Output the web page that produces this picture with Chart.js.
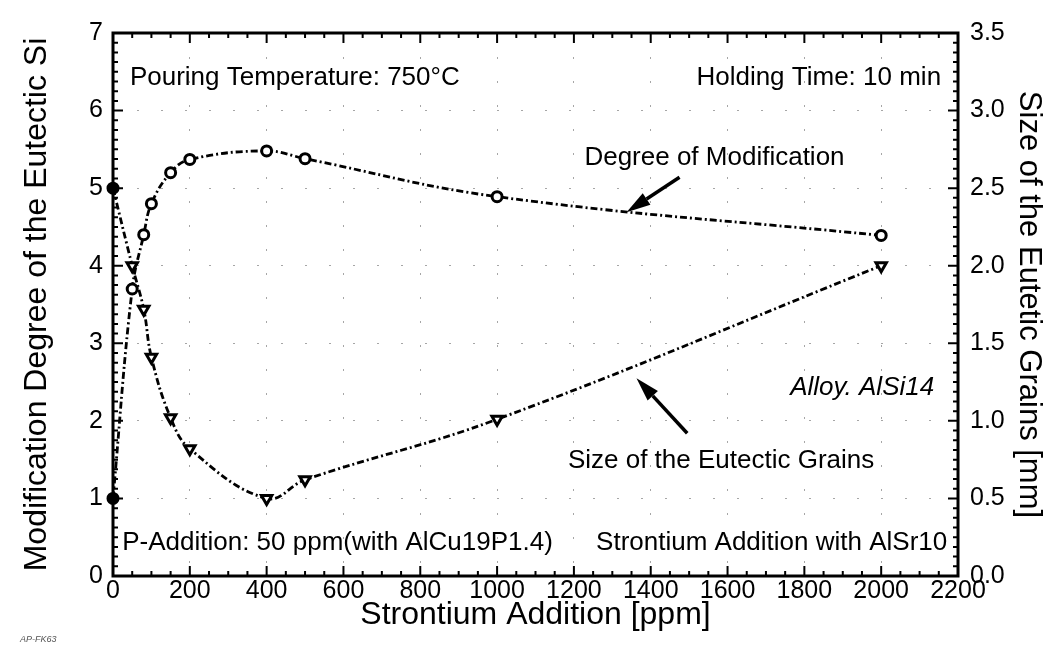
<!DOCTYPE html>
<html lang="en">
<head>
<meta charset="UTF-8">
<title>Strontium Addition</title>
<script src="https://cdn.jsdelivr.net/npm/chart.js"></script>
<style>
  html, body { margin: 0; padding: 0; background: #fff; }
</style>
</head>
<body>
<canvas id="myChart" width="1059" height="651"></canvas>
<script>
// Sr addition [ppm] for each measured sample
const srAddition = [0, 50, 80, 100, 150, 200, 400, 500, 1000, 2000];
// degree of modification of the eutectic Si (left axis)
const modDegree = [1.0, 3.7, 4.4, 4.8, 5.2, 5.37, 5.48, 5.38, 4.89, 4.39];
// size of the eutectic grains [mm] (right axis)
const grainSize = [2.5, 2.0, 1.72, 1.41, 1.02, 0.82, 0.5, 0.62, 1.01, 2.0];

// tick labels
const xTicks = [0, 200, 400, 600, 800, 1000, 1200, 1400, 1600, 1800, 2000, 2200];
const leftTicks = [0, 1, 2, 3, 4, 5, 6, 7];
const rightTicks = [0, 0.5, 1.0, 1.5, 2.0, 2.5, 3.0, 3.5];

const FONT = "'Liberation Sans', Arial, sans-serif";

// text notes and arrows placed in data units (x = ppm, y = left axis)
const notes = [
  { text: 'Pouring Temperature: 750°C', x: 44, y: 6.33, align: 'left' },
  { text: 'Holding Time: 10 min', x: 2156, y: 6.33, align: 'right' },
  { text: 'Degree of Modification', x: 1566, y: 5.30, align: 'center' },
  { text: 'Alloy. AlSi14', x: 2138, y: 2.33, align: 'right', italic: true },
  { text: 'Size of the Eutectic Grains', x: 1982, y: 1.39, align: 'right' },
  { text: 'P-Addition: 50 ppm(with AlCu19P1.4)', x: 24, y: 0.34, align: 'left' },
  { text: 'Strontium Addition with AlSr10', x: 2172, y: 0.34, align: 'right' }
];
const arrows = [
  { from: [1475, 5.14], to: [1337, 4.69] },
  { from: [1495, 1.84], to: [1363, 2.55] }
];

// frame, inward ticks, notes and arrows
const decorPlugin = {
  id: 'decor',
  afterDraw(chart) {
    const ctx = chart.ctx;
    const a = chart.chartArea;
    const sx = chart.scales.x, sy = chart.scales.y;
    ctx.save();
    ctx.strokeStyle = '#000';
    ctx.lineWidth = 3;
    ctx.strokeRect(a.left, a.top, a.right - a.left, a.bottom - a.top);

    ctx.lineWidth = 2;
    ctx.beginPath();
    for (let i = 0; i <= 56; i++) {
      const py = sy.getPixelForValue(i / 8);
      const len = i % 8 === 0 ? 10 : 5;
      ctx.moveTo(a.left, py); ctx.lineTo(a.left + len, py);
      ctx.moveTo(a.right, py); ctx.lineTo(a.right - len, py);
    }
    for (let i = 0; i <= 44; i++) {
      const px = sx.getPixelForValue(i * 50);
      const len = i % 4 === 0 ? 10 : 5;
      ctx.moveTo(px, a.bottom); ctx.lineTo(px, a.bottom - len);
      ctx.moveTo(px, a.top); ctx.lineTo(px, a.top + len);
    }
    ctx.stroke();

    ctx.fillStyle = '#000';
    ctx.textBaseline = 'alphabetic';
    notes.forEach(n => {
      ctx.font = (n.italic ? 'italic ' : '') + '26px ' + FONT;
      ctx.textAlign = n.align;
      ctx.fillText(n.text, sx.getPixelForValue(n.x), sy.getPixelForValue(n.y));
    });

    arrows.forEach(ar => {
      const x0 = sx.getPixelForValue(ar.from[0]), y0 = sy.getPixelForValue(ar.from[1]);
      const x1 = sx.getPixelForValue(ar.to[0]), y1 = sy.getPixelForValue(ar.to[1]);
      const ang = Math.atan2(y1 - y0, x1 - x0);
      const hl = 24, hw = 7;
      const bx = x1 - hl * Math.cos(ang), by = y1 - hl * Math.sin(ang);
      ctx.lineWidth = 3.5;
      ctx.beginPath(); ctx.moveTo(x0, y0); ctx.lineTo(bx, by); ctx.stroke();
      ctx.beginPath();
      ctx.moveTo(x1, y1);
      ctx.lineTo(bx + hw * Math.sin(ang), by - hw * Math.cos(ang));
      ctx.lineTo(bx - hw * Math.sin(ang), by + hw * Math.cos(ang));
      ctx.closePath(); ctx.fill();
    });

    ctx.font = 'italic 9px ' + FONT;
    ctx.fillStyle = '#555';
    ctx.textAlign = 'left';
    ctx.fillText('AP-FK63', 20, 642);
    ctx.restore();
  }
};

const ctx = document.getElementById('myChart').getContext('2d');
const lineStyle = {
  borderColor: '#000',
  borderWidth: 2.8,
  borderDash: [7, 3, 2, 3],
  tension: 0.4,
  fill: false,
  clip: false,
  pointBorderColor: '#000',
  pointBorderWidth: 3
};

new Chart(ctx, {
  type: 'line',
  data: {
    datasets: [
      Object.assign({
        label: 'Degree of Modification',
        data: srAddition.map((x, i) => ({ x: x, y: modDegree[i] })),
        yAxisID: 'y',
        pointStyle: 'circle',
        pointRadius: 5,
        pointBackgroundColor: srAddition.map((x, i) => i === 0 ? '#000' : '#fff')
      }, lineStyle),
      Object.assign({
        label: 'Size of the Eutectic Grains',
        data: srAddition.map((x, i) => ({ x: x, y: grainSize[i] })),
        yAxisID: 'y1',
        pointStyle: srAddition.map((x, i) => i === 0 ? 'circle' : 'triangle'),
        pointRotation: 180,
        pointRadius: srAddition.map((x, i) => i === 0 ? 5 : 6),
        pointBackgroundColor: srAddition.map((x, i) => i === 0 ? '#000' : '#fff')
      }, lineStyle)
    ]
  },
  options: {
    responsive: false,
    animation: false,
    layout: { padding: { top: 33, left: 0, right: 0, bottom: 0 } },
    plugins: { legend: { display: false }, tooltip: { enabled: false } },
    scales: {
      x: {
        type: 'linear',
        min: 0, max: 2200,
        afterBuildTicks: s => { s.ticks = xTicks.map(v => ({ value: v })); },
        afterFit: s => { s.height = 75; },
        border: { display: false, dash: [2, 22] },
        grid: { drawTicks: false, color: 'rgba(0,0,0,0.35)', lineWidth: 1 },
        ticks: { autoSkip: false, maxRotation: 0, padding: 0, color: '#000', font: { family: FONT, size: 25 }, callback: v => String(v) },
        title: { display: true, text: 'Strontium Addition [ppm]', color: '#000', font: { family: FONT, size: 32 }, padding: { top: 0, bottom: 17 } }
      },
      y: {
        position: 'left',
        min: 0, max: 7,
        afterBuildTicks: s => { s.ticks = leftTicks.map(v => ({ value: v })); },
        afterFit: s => { s.width = 113; },
        border: { display: false, dash: [2, 22] },
        grid: { drawTicks: false, color: 'rgba(0,0,0,0.35)', lineWidth: 1 },
        ticks: { padding: 10, color: '#000', font: { family: FONT, size: 25 } },
        title: { display: true, text: 'Modification Degree of the Eutectic Si', color: '#000', font: { family: FONT, size: 32 }, padding: { top: 18, bottom: 0 } }
      },
      y1: {
        position: 'right',
        min: 0, max: 3.5,
        afterBuildTicks: s => { s.ticks = rightTicks.map(v => ({ value: v })); },
        afterFit: s => { s.width = 101; },
        border: { display: false },
        grid: { display: false, drawTicks: false },
        ticks: { padding: 12, color: '#000', font: { family: FONT, size: 25 }, callback: v => v.toFixed(1) },
        title: { display: true, text: 'Size of the Eutetic Grains [mm]', color: '#000', font: { family: FONT, size: 31 }, padding: { top: 12, bottom: 0 } }
      }
    }
  },
  plugins: [decorPlugin]
});
</script>
</body>
</html>
